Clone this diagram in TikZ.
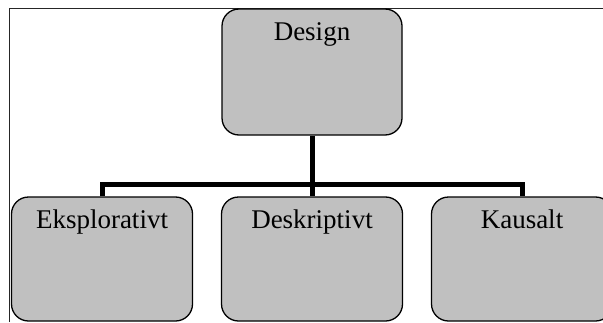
\documentclass[tikz,border=0pt]{standalone}
\usepackage{fontspec}
\setmainfont{Liberation Serif}
\usetikzlibrary{backgrounds}
\begin{document}
\begin{tikzpicture}[x=1bp,y=1bp,
  box/.style={draw=black, line width=1.3bp, fill=boxgray, rounded corners=17bp,
    minimum width=181bp, minimum height=124bp, inner sep=0pt},
  boxtext/.style={anchor=base, inner sep=0pt, font=\fontsize{27bp}{31bp}\selectfont},
  conn/.style={draw=black, line width=5bp},
  frameline/.style={draw=black!85, line width=1bp}]
\definecolor{boxgray}{RGB}{192,192,192}
\useasboundingbox (0,0) rectangle (603,322);
\clip (0,0) rectangle (603,322);
% page frame
\draw[frameline] (9.3,0) -- (9.3,313.7) -- (603,313.7);
% junction of the tree
\coordinate (j) at (312,138);
% boxes
\node[box, minimum width=180bp, minimum height=126bp] (design) at (312,250) {};
\node[box] (eks) at (102,63) {};
\node[box] (desk) at (312,63) {};
\node[box] (kau) at (522,63) {};
% connectors, behind the boxes
\begin{pgfonlayer}{background}
\draw[conn] (design.south) -- (desk.north);
\draw[conn] (eks.north) -- (eks.north |- j) -- (kau.north |- j) -- (kau.north);
\end{pgfonlayer}
% labels
\node[boxtext] (tdesign) at ([yshift=-32.5bp]design.north) {Design};
\node[boxtext] (teks) at ([yshift=-32.5bp]eks.north) {Eksplorativt};
\node[boxtext] (tdesk) at ([yshift=-32.5bp]desk.north) {Deskriptivt};
\node[boxtext] (tkau) at ([yshift=-32.5bp]kau.north) {Kausalt};
\end{tikzpicture}
\end{document}
